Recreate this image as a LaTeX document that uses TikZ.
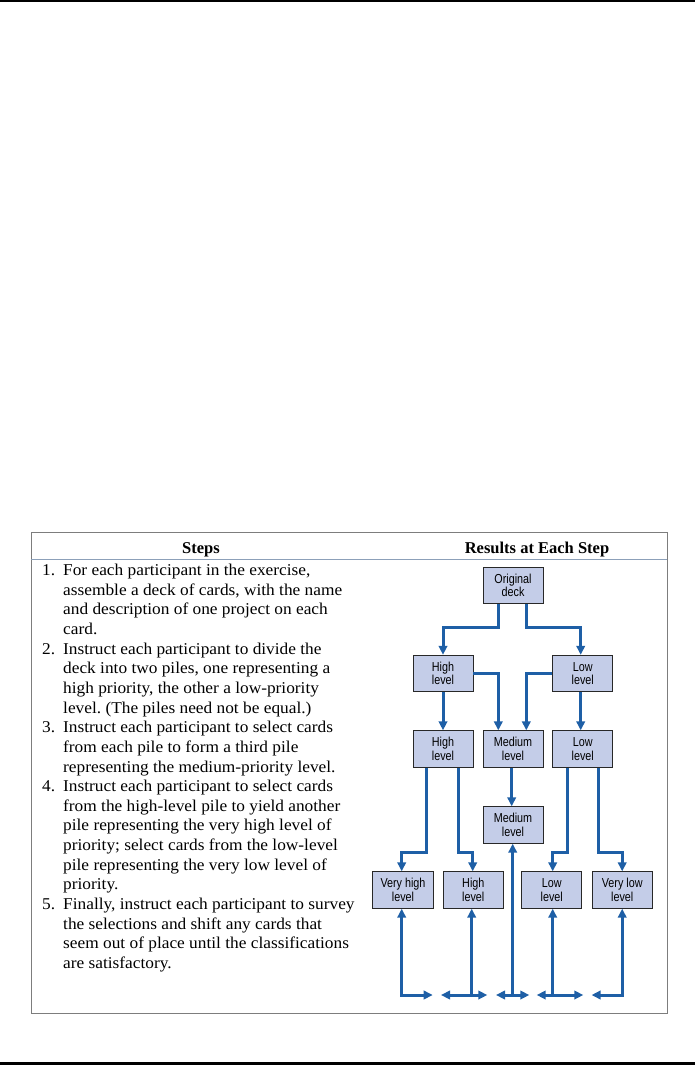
\documentclass[tikz,border=0pt]{standalone}
\usepackage{fontspec}
\setmainfont{Liberation Serif}
\newfontfamily\bodyfont[FakeStretch=1.05]{Liberation Serif}
\newfontfamily\boxfont[FakeStretch=0.83]{Liberation Sans}
\usetikzlibrary{arrows.meta,calc}
\frenchspacing
\definecolor{boxfill}{RGB}{196,205,232}
\definecolor{boxline}{RGB}{40,40,40}
\definecolor{arrblue}{RGB}{30,95,166}
\definecolor{hdrline}{RGB}{140,160,185}
\definecolor{frame}{RGB}{125,125,125}
\tikzset{
  card/.style={draw=boxline, line width=0.8pt, fill=boxfill, minimum width=60pt, minimum height=36.6pt,
    inner sep=0pt, align=center, font=\boxfont\fontsize{13}{13.5}\selectfont},
  body/.style={anchor=base west, inner sep=0pt, font=\bodyfont\fontsize{16.5}{19.65}\selectfont},
  num/.style={anchor=base west, inner sep=0pt, font=\bodyfont\fontsize{16.5}{19.65}\selectfont},
  hdr/.style={anchor=base, inner sep=0pt, font=\bfseries\fontsize{16.5}{19}\selectfont},
  flow/.style={draw=arrblue, line width=3pt, -{Triangle[length=9pt,width=8.5pt]}},
  flowboth/.style={draw=arrblue, line width=3pt, {Triangle[length=9pt,width=8.5pt]}-{Triangle[length=9pt,width=8.5pt]}},
  flowline/.style={draw=arrblue, line width=3pt}
}
\begin{document}
\begin{tikzpicture}[x=1pt,y=-1pt]
\useasboundingbox (0,0) rectangle (695,1066);
% page rules
\fill (0,0) rectangle (695,2.2);
\fill (0,1062) rectangle (695,1064.6);
% frame
\draw[frame, line width=1pt] (31,532) rectangle (667,1013);
\draw[hdrline, line width=1pt] (31,559) -- (667,559);
\node[hdr] (hsteps) at (201,553) {Steps};
\node[hdr] (hres) at (537,553) {Results at Each Step};
% step texts
\foreach \t [count=\i] in {
 {For each participant in the exercise,},
 {assemble a deck of cards, with the name},
 {and description of one project on each},
 {card.},
 {Instruct each participant to divide the},
 {deck into two piles, one representing a},
 {high priority, the other a low-priority},
 {level. (The piles need not be equal.)},
 {Instruct each participant to select cards},
 {from each pile to form a third pile},
 {representing the medium-priority level.},
 {Instruct each participant to select cards},
 {from the high-level pile to yield another},
 {pile representing the very high level of},
 {priority; select cards from the low-level},
 {pile representing the very low level of},
 {priority.},
 {Finally, instruct each participant to survey},
 {the selections and shift any cards that},
 {seem out of place until the classifications},
 {are satisfactory.}}
 {\node[body, name=ln\i] at (63,{575.5+19.65*(\i-1)}) {\t};}
\foreach \n/\l in {1/1,2/5,3/9,4/12,5/18}
 {\node[num, name=nr\n] at (42,{575.5+19.65*(\l-1)}) {\n.};}
% cards
\node[card] (Orig) at (513,585.5) {Original\\deck};
\node[card] (H2) at (443,673.5) {High\\level};
\node[card] (L2) at (582.7,673.5) {Low\\level};
\node[card] (H3) at (443,749) {High\\level};
\node[card] (M3) at (513,749) {Medium\\level};
\node[card] (L3) at (582.7,749) {Low\\level};
\node[card] (M4) at (513,825) {Medium\\level};
\node[card, minimum width=60.6pt] (VH) at (403,890) {Very high\\level};
\node[card] (H5) at (473.3,890) {High\\level};
\node[card] (L5) at (551.7,890) {Low\\level};
\node[card] (VL) at (622.2,890) {Very low\\level};
\coordinate (bot) at (0,995);
% connectors
\draw[flow] ([xshift=-14.7pt]Orig.south) -- ++(0,23.7) -| ([xshift=0pt]H2.north);
\draw[flow] ([xshift=13pt]Orig.south) -- ++(0,23.7) -| ([xshift=-2pt]L2.north);
\draw[flow] (H2.east) -| ([xshift=-14.7pt]M3.north);
\draw[flow] (L2.west) -| ([xshift=13.3pt]M3.north);
\draw[flow] (H2.south) -- (H3.north);
\draw[flow] ([xshift=-2pt]L2.south) -- ([xshift=-2pt]L3.north);
\draw[flow] ([xshift=-1.3pt]M3.south) -- ([xshift=-1.3pt]M4.north);
\draw[flow] ([xshift=-17pt]H3.south) -- ++(0,84.4) -| ([xshift=-1.3pt]VH.north);
\draw[flow] ([xshift=15.7pt]H3.south) -- ++(0,84.4) -| ([xshift=-0.6pt]H5.north);
\draw[flow] ([xshift=-15.4pt]L3.south) -- ++(0,84.4) -| ([xshift=1pt]L5.north);
\draw[flow] ([xshift=15.6pt]L3.south) -- ++(0,84.4) -| (VL.north);
% bottom return arrows
\draw[flowboth] ([xshift=-1.3pt]VH.south) -- ([xshift=-1.3pt]VH.south |- bot) -- ++(31,0);
\draw[flow] ($(H5.south |- bot)+(-1.6,0)$) -- ([xshift=-1.6pt]H5.south);
\draw[flowboth] ($(H5.south |- bot)+(-32.3,0)$) -- ++(46.3,0);
\draw[flow] ($(M4.south |- bot)+(-0.3,0)$) -- ([xshift=-0.3pt]M4.south);
\draw[flowboth] ($(M4.south |- bot)+(-17,0)$) -- ++(33.3,0);
\draw[flow] ($(L5.south |- bot)+(1,0)$) -- ([xshift=1pt]L5.south);
\draw[flowboth] ($(L5.south |- bot)+(-15,0)$) -- ++(46.6,0);
\draw[flowboth] (VL.south) -- (VL.south |- bot) -- ++(-30.6,0);
\end{tikzpicture}
\end{document}
